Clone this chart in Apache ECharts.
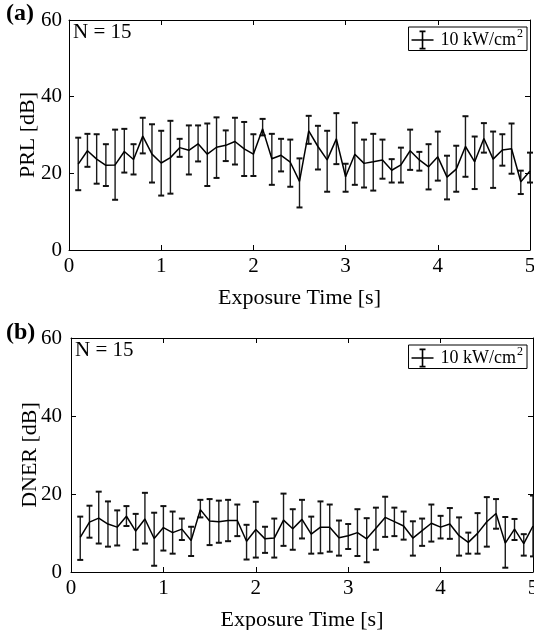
<!DOCTYPE html>
<html>
<head>
<meta charset="utf-8">
<script src="https://cdn.jsdelivr.net/npm/echarts@6/dist/echarts.min.js"></script>
<style>
html,body{margin:0;padding:0;background:#fff;}
#chart{width:534px;height:630px;}
</style>
</head>
<body>
<div id="chart"></div>
<script>
// ---- data ----
const times = [0.1,0.2,0.3,0.4,0.5,0.6,0.7,0.8,0.9,1.0,
               1.1,1.2,1.3,1.4,1.5,1.6,1.7,1.8,1.9,2.0,
               2.1,2.2,2.3,2.4,2.5,2.6,2.7,2.8,2.9,3.0,
               3.1,3.2,3.3,3.4,3.5,3.6,3.7,3.8,3.9,4.0,
               4.1,4.2,4.3,4.4,4.5,4.6,4.7,4.8,4.9,5.0];

const prlMean = [22.4,25.9,23.7,22.1,22.2,25.7,23.6,29.7,25.0,22.7,
                 24.1,26.7,26.0,27.7,25.0,26.8,27.3,28.3,26.4,25.0,
                 31.6,23.8,24.7,22.9,17.9,31.1,27.0,23.5,29.0,19.1,
                 25.0,22.6,23.0,23.5,20.8,22.2,25.9,23.5,21.7,24.3,
                 19.0,21.1,27.0,23.0,29.1,23.7,26.1,26.4,17.8,20.6];
const prlHigh = [29.3,30.3,30.2,27.6,31.4,31.6,27.6,34.5,32.8,31.1,
                 33.7,29.0,32.5,32.5,33.0,34.6,31.2,34.5,33.4,30.2,
                 34.2,30.3,29.0,28.8,23.9,35.0,32.4,31.1,35.7,22.5,
                 33.2,28.8,30.3,28.8,23.7,26.7,31.4,25.6,27.6,30.9,
                 24.6,27.2,34.9,29.6,33.1,30.9,30.2,33.0,20.7,25.4];
const prlLow  = [15.6,21.7,17.3,16.7,13.1,20.2,19.7,25.2,17.6,14.2,
                 14.7,24.3,19.7,23.1,16.7,18.8,23.2,22.3,19.3,19.3,
                 29.9,17.0,20.5,16.5,11.1,27.7,21.0,15.2,22.4,15.2,
                 17.0,16.3,15.5,18.6,17.6,17.6,20.9,20.7,15.8,18.1,
                 13.2,15.2,19.1,15.9,25.4,16.2,22.0,19.9,14.6,17.6];

const dnerMean = [8.9,12.8,13.8,12.3,11.5,14.3,10.5,13.6,8.6,11.4,
                  10.1,11.0,8.1,16.0,13.1,12.9,13.2,13.2,7.9,10.9,
                  8.5,8.7,13.3,11.1,13.5,9.7,11.5,11.5,8.8,9.3,
                  10.1,8.5,11.2,14.0,12.9,11.8,8.7,10.6,12.5,11.5,
                  12.3,9.3,7.6,9.9,12.9,15.0,7.4,11.0,7.3,11.8];
const dnerHigh = [14.2,17.0,20.6,18.1,15.8,16.9,14.9,20.3,15.2,16.9,
                  15.5,13.7,11.6,18.5,18.7,18.3,18.5,17.3,12.1,18.0,
                  11.6,13.7,20.1,16.1,18.5,14.2,18.1,17.3,13.2,12.3,
                  16.1,13.8,16.5,19.3,16.5,15.5,13.0,13.7,17.3,14.4,
                  16.4,14.0,10.1,15.1,19.2,18.7,14.1,13.6,9.7,19.6];
const dnerLow  = [3.1,8.8,7.3,6.5,6.8,11.8,5.7,7.3,1.6,5.5,
                  4.7,8.2,4.1,14.0,6.9,7.5,7.9,9.2,3.2,3.7,
                  4.9,3.7,6.7,5.7,8.6,4.7,4.8,5.2,4.2,5.9,
                  4.1,2.5,5.7,9.0,9.2,8.3,4.2,6.7,7.8,8.6,
                  8.5,4.2,4.7,4.7,6.5,11.1,1.1,8.2,4.2,4.0];

const xTicks = [0,1,2,3,4,5];
const yTicks = [0,20,40,60];
const legendLabel = '10 kW/cm2';
const panelLabels = ['(a)','(b)'];
const nLabel = 'N = 15';
const yNames = ['PRL [dB]','DNER [dB]'];
const xName = 'Exposure Time [s]';

// ---- chart ----
const FONT = 'Liberation Serif';
const chart = echarts.init(document.getElementById('chart'), null, {renderer:'canvas'});

const grids = [
  {left:69, top:20, width:461, height:230, outerBoundsMode:'none', containLabel:false},
  {left:71, top:338, width:462, height:234, outerBoundsMode:'none', containLabel:false}
];

function xAx(gi, main){
  return {
    type:'value', gridIndex:gi, position: main ? 'bottom':'top',
    min:xTicks[0], max:xTicks[xTicks.length-1], interval:1,
    name: main ? xName : '', nameLocation:'middle', nameGap:37, nameMoveOverlap:false,
    nameTextStyle:{fontFamily:FONT, fontSize:22, color:'#000'},
    axisLine:{show:true, onZero:false, lineStyle:{color:'#000', width:1}},
    axisTick:{show:true, inside:true, length:5, lineStyle:{color:'#000'}},
    axisLabel:{show:main, margin:6, fontFamily:FONT, fontSize:21, color:'#000', hideOverlap:false},
    splitLine:{show:false}
  };
}
function yAx(gi, main){
  return {
    type:'value', gridIndex:gi, position: main ? 'left':'right',
    min:yTicks[0], max:yTicks[yTicks.length-1], interval:20,
    name: main ? yNames[gi] : '', nameLocation:'middle', nameGap:30, nameMoveOverlap:false,
    nameTextStyle:{fontFamily:FONT, fontSize:22, color:'#000'},
    axisLine:{show:true, onZero:false, lineStyle:{color:'#000', width:1}},
    axisTick:{show:true, inside:true, length:5, lineStyle:{color:'#000'}},
    axisLabel:{show:main, margin: gi===0 ? 7 : 9, fontFamily:FONT, fontSize:21, color:'#000'},
    splitLine:{show:false}
  };
}

function errRender(params, api){
  const x = api.value(0), lo = api.value(1), hi = api.value(2);
  const pLo = api.coord([x, lo]);
  const pHi = api.coord([x, hi]);
  const w = 3;
  const st = {stroke:'#1a1a1a', lineWidth:1.4};
  const cs = {stroke:'#111', lineWidth:2};
  return {type:'group', children:[
    {type:'line', shape:{x1:pHi[0], y1:pHi[1], x2:pLo[0], y2:pLo[1]}, style:st},
    {type:'line', shape:{x1:pHi[0]-w, y1:pHi[1], x2:pHi[0]+w, y2:pHi[1]}, style:cs},
    {type:'line', shape:{x1:pLo[0]-w, y1:pLo[1], x2:pLo[0]+w, y2:pLo[1]}, style:cs}
  ]};
}

const iconPath = 'path://M0,9.3L22,9.3L22,10.7L0,10.7Z M10.2,1L11.8,1L11.8,19L10.2,19Z M8,0.5L14,0.5L14,2.3L8,2.3Z M8,17.7L14,17.7L14,19.5L8,19.5Z';

function legendFor(gi, name){
  return {
    show:true,
    right: 7,
    top: grids[gi].top + 7,
    orient:'horizontal',
    padding:[1,4,1,3],
    borderColor:'#000', borderWidth:1, borderRadius:0,
    backgroundColor:'#fff',
    itemWidth:22, itemHeight:20, itemGap:4,
    selectedMode:false,
    data:[{name:name, icon:iconPath, itemStyle:{color:'#000', borderWidth:0}}],
    lineStyle:{width:0},
    formatter: function(){ return '{a|10 kW/cm}{s|2}'; },
    textStyle:{
      fontFamily:FONT, fontSize:18, color:'#000', padding:[0,0,0,2],
      rich:{
        a:{fontFamily:FONT, fontSize:18, color:'#000'},
        s:{fontFamily:FONT, fontSize:12, color:'#000', padding:[0,0,12,1]}
      }
    }
  };
}

const seriesNames = ['PRL ' + legendLabel, 'DNER ' + legendLabel];

const option = {
  backgroundColor:'#fff',
  animation:false,
  grid: grids,
  xAxis:[xAx(0,true), xAx(0,false), xAx(1,true), xAx(1,false)],
  yAxis:[yAx(0,true), yAx(0,false), yAx(1,true), yAx(1,false)],
  legend:[legendFor(0, seriesNames[0]), legendFor(1, seriesNames[1])],
  series:[
    {name:seriesNames[0], type:'line', xAxisIndex:0, yAxisIndex:0,
     data: times.map((t,i)=>[t, prlMean[i]]), showSymbol:false, symbol:'none',
     lineStyle:{color:'#000', width:1.5}, itemStyle:{color:'#000'}, z:3},
    {name:seriesNames[0], type:'custom', xAxisIndex:0, yAxisIndex:0,
     data: times.map((t,i)=>[t, prlLow[i], prlHigh[i]]),
     encode:{x:0, y:[1,2]}, renderItem:errRender, z:2},
    {name:seriesNames[1], type:'line', xAxisIndex:2, yAxisIndex:2,
     data: times.map((t,i)=>[t, dnerMean[i]]), showSymbol:false, symbol:'none',
     lineStyle:{color:'#000', width:1.5}, itemStyle:{color:'#000'}, z:3},
    {name:seriesNames[1], type:'custom', xAxisIndex:2, yAxisIndex:2,
     data: times.map((t,i)=>[t, dnerLow[i], dnerHigh[i]]),
     encode:{x:0, y:[1,2]}, renderItem:errRender, z:2}
  ],
  graphic:[
    {type:'text', left:6, top:2, style:{text:panelLabels[0], font:'bold 24px "Liberation Serif"', fill:'#000'}},
    {type:'text', left:6, top:321, style:{text:panelLabels[1], font:'bold 24px "Liberation Serif"', fill:'#000'}},
    {type:'text', left:73, top:22, style:{text:nLabel, font:'21px "Liberation Serif"', fill:'#000'}},
    {type:'text', left:75, top:340, style:{text:nLabel, font:'21px "Liberation Serif"', fill:'#000'}}
  ]
};
chart.setOption(option);
</script>
</body>
</html>
